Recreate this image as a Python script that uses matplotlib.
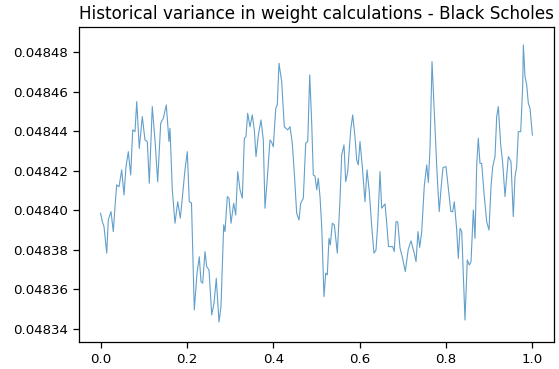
import numpy as np
import matplotlib
matplotlib.use("Agg")
import matplotlib.pyplot as plt

# normalised time axis for the sampled weights
t = [0.0, 0.0040, 0.0079, 0.0142, 0.0178, 0.0241, 0.0294, 0.0334, 0.0373, 0.0427,
     0.0489, 0.0542, 0.0588, 0.0642, 0.0697, 0.0744, 0.0797, 0.0837, 0.0896, 0.0966,
     0.1028, 0.1082, 0.1128, 0.1197, 0.1260, 0.1322, 0.1392, 0.1453, 0.1522, 0.1584,
     0.1607, 0.1661, 0.1723, 0.1786, 0.1846, 0.1892, 0.1954, 0.2008, 0.2054, 0.2105,
     0.2170, 0.2233, 0.2286, 0.2325, 0.2364, 0.2418, 0.2457, 0.2511, 0.2573, 0.2627,
     0.2679, 0.2742, 0.2788, 0.2851, 0.2881, 0.2935, 0.2974, 0.3020, 0.3082, 0.3129,
     0.3175, 0.3229, 0.3282, 0.3329, 0.3367, 0.3406, 0.3460, 0.3513, 0.3560, 0.3599,
     0.3653, 0.3715, 0.3768, 0.3807, 0.3861, 0.3923, 0.3958, 0.4000, 0.4056, 0.4092,
     0.4131, 0.4194, 0.4254, 0.4333, 0.4387, 0.4439, 0.4486, 0.4541, 0.4595, 0.4634,
     0.4695, 0.4750, 0.4797, 0.4843, 0.4889, 0.4926, 0.4965, 0.5005, 0.5042, 0.5081,
     0.5121, 0.5173, 0.5213, 0.5250, 0.5289, 0.5320, 0.5366, 0.5413, 0.5482, 0.5544,
     0.5583, 0.5637, 0.5676, 0.5723, 0.5792, 0.5839, 0.5891, 0.5931, 0.5968, 0.6007,
     0.6061, 0.6123, 0.6170, 0.6222, 0.6279, 0.6331, 0.6378, 0.6417, 0.6471, 0.6510,
     0.6587, 0.6626, 0.6668, 0.6765, 0.6800, 0.6841, 0.6881, 0.6934, 0.6992, 0.7056,
     0.7126, 0.7189, 0.7253, 0.7305, 0.7350, 0.7390, 0.7436, 0.7495, 0.7552, 0.7590,
     0.7629, 0.7675, 0.7733, 0.7790, 0.7842, 0.7888, 0.7930, 0.7999, 0.8052, 0.8111,
     0.8154, 0.8191, 0.8247, 0.8284, 0.8324, 0.8363, 0.8439, 0.8492, 0.8539, 0.8578,
     0.8632, 0.8671, 0.8710, 0.8747, 0.8786, 0.8825, 0.8886, 0.8941, 0.8995, 0.9041,
     0.9081, 0.9134, 0.9173, 0.9210, 0.9266, 0.9312, 0.9366, 0.9405, 0.9442, 0.9504,
     0.9557, 0.9597, 0.9636, 0.9674, 0.9729, 0.9776, 0.9790, 0.9829, 0.9868, 0.9905,
     0.9944, 1.0]

# variance of the Black Scholes weights at each step
variance = [0.0483985, 0.0483942, 0.0483917, 0.0483783, 0.0483951, 0.0483993, 0.0483892, 0.0484018, 0.0484128, 0.0484119,
            0.0484204, 0.0484077, 0.0484220, 0.0484296, 0.0484178, 0.0484406, 0.0484397, 0.0484549, 0.0484313, 0.0484473,
            0.0484355, 0.0484347, 0.0484136, 0.0484524, 0.0484355, 0.0484144, 0.0484440, 0.0484465, 0.0484532, 0.0484347,
            0.0484414, 0.0484103, 0.0483934, 0.0484043, 0.0483960, 0.0484061, 0.0484204, 0.0484296, 0.0484043, 0.0484037,
            0.0483496, 0.0483682, 0.0483765, 0.0483639, 0.0483631, 0.0483791, 0.0483715, 0.0483698, 0.0483471, 0.0483530,
            0.0483656, 0.0483435, 0.0483513, 0.0483926, 0.0483892, 0.0484069, 0.0484061, 0.0483934, 0.0484035, 0.0483976,
            0.0484195, 0.0484103, 0.0484061, 0.0484364, 0.0484372, 0.0484490, 0.0484422, 0.0484482, 0.0484406, 0.0484271,
            0.0484380, 0.0484456, 0.0484355, 0.0484010, 0.0484162, 0.0484355, 0.0484345, 0.0484321, 0.0484515, 0.0484532,
            0.0484743, 0.0484650, 0.0484422, 0.0484406, 0.0484422, 0.0484339, 0.0484187, 0.0483985, 0.0483951, 0.0484035,
            0.0484061, 0.0484339, 0.0484347, 0.0484684, 0.0484440, 0.0484178, 0.0484173, 0.0484103, 0.0484162, 0.0484069,
            0.0483917, 0.0483563, 0.0483682, 0.0483673, 0.0483858, 0.0483825, 0.0483934, 0.0483926, 0.0483783, 0.0484052,
            0.0484279, 0.0484330, 0.0484144, 0.0484195, 0.0484406, 0.0484482, 0.0484372, 0.0484254, 0.0484229, 0.0484347,
            0.0484220, 0.0484043, 0.0484204, 0.0484094, 0.0483917, 0.0483783, 0.0483799, 0.0483926, 0.0484195, 0.0484010,
            0.0484032, 0.0483934, 0.0483816, 0.0483816, 0.0483791, 0.0483942, 0.0483941, 0.0483809, 0.0483759, 0.0483690,
            0.0483804, 0.0483845, 0.0483792, 0.0483740, 0.0483892, 0.0483812, 0.0483890, 0.0484119, 0.0484229, 0.0484140,
            0.0484315, 0.0484751, 0.0484473, 0.0484195, 0.0483993, 0.0484119, 0.0484216, 0.0484220, 0.0484115, 0.0483993,
            0.0483993, 0.0484043, 0.0483900, 0.0483757, 0.0483909, 0.0483892, 0.0483445, 0.0483749, 0.0483723, 0.0483739,
            0.0484001, 0.0483858, 0.0484229, 0.0484364, 0.0484237, 0.0484237, 0.0484069, 0.0483942, 0.0483900, 0.0484119,
            0.0484220, 0.0484271, 0.0484473, 0.0484524, 0.0484330, 0.0484237, 0.0484069, 0.0484170, 0.0484271, 0.0484246,
            0.0483968, 0.0484170, 0.0484220, 0.0484397, 0.0484397, 0.0484633, 0.0484835, 0.0484675, 0.0484633, 0.0484541,
            0.0484515, 0.0484380]

y_ticks = np.arange(0.04834, 0.048481, 0.00002)

fig = plt.figure(figsize=(5.59, 3.69), dpi=100)
ax = fig.add_axes([79 / 559, 1 - 342 / 369, 475 / 559, 315 / 369])

ax.plot(t, variance, color="C0", linewidth=0.8, alpha=0.7)
ax.set_ylim(0.0483334, 0.0484926)
ax.set_yticks(y_ticks)
ax.ticklabel_format(axis="y", useOffset=False)
ax.tick_params(labelsize=9.6, length=4.5, width=0.9)
for s in ax.spines.values():
    s.set_linewidth(0.9)
ax.set_title("Historical variance in weight calculations - Black Scholes",
             fontsize=12.1, pad=5.6)

fig.savefig("out.png", dpi=100)
